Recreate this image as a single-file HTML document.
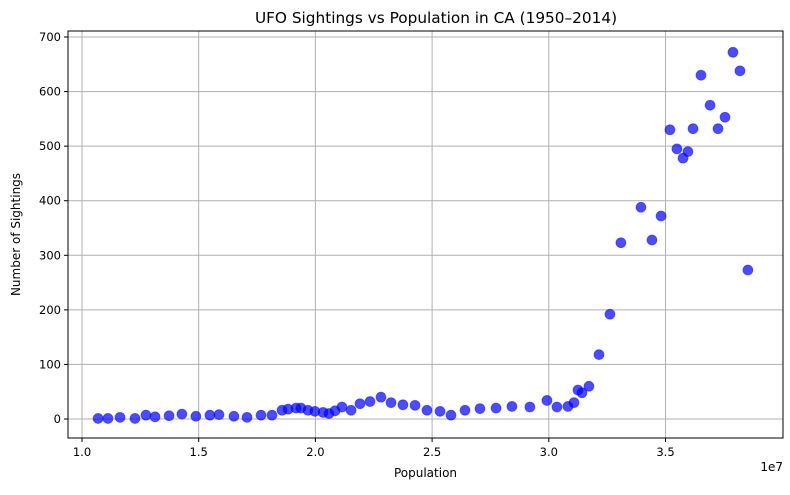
<!DOCTYPE html>
<html><head><meta charset="utf-8"><style>
body{margin:0;background:#fff;font-family:"Liberation Sans","DejaVu Sans",sans-serif}
</style></head><body>
<svg id="chart" width="790" height="490" xmlns="http://www.w3.org/2000/svg" font-family="DejaVu Sans, Liberation Sans, sans-serif">
<text x="436" y="23" text-anchor="middle" font-size="15.3">UFO Sightings vs Population in CA (1950–2014)</text>
<g id="grid"></g>
<g id="ticks"></g>
<g id="points"></g>
<rect x="68" y="31" width="715" height="407" fill="none" stroke="#000" stroke-width="1"/>
<text x="425.5" y="477" text-anchor="middle" font-size="12">Population</text>
<text transform="translate(20,234.5) rotate(-90)" text-anchor="middle" font-size="12">Number of Sightings</text>
<text x="783" y="471" text-anchor="end" font-size="12">1e7</text>
</svg>
<script>
const population=[10.69,11.11,11.63,12.27,12.74,13.13,13.73,14.28,14.88,15.48,15.87,16.51,17.07,17.67,18.14,18.57,18.83,19.17,19.38,19.68,19.98,20.33,20.58,20.84,21.14,21.53,21.91,22.34,22.81,23.24,23.75,24.27,24.78,25.34,25.81,26.41,27.05,27.74,28.42,29.19,29.92,30.35,30.82,31.08,31.25,31.42,31.72,32.15,32.62,33.09,33.95,34.42,34.81,35.19,35.49,35.75,35.96,36.18,36.52,36.91,37.25,37.55,37.89,38.19,38.53];
const sightings=[1,1,3,1,7,4,6,9,5,7,8,5,3,7,7,16,18,20,20,16,14,12,10,15,22,16,28,32,40,30,26,25,16,14,7,16,19,20,23,22,34,22,23,30,53,48,60,118,192,323,388,328,372,530,495,478,490,532,630,575,532,553,672,638,273];
const xTicks=[10,15,20,25,30,35];
const xTickLabels=["1.0","1.5","2.0","2.5","3.0","3.5"];
const yTicks=[0,100,200,300,400,500,600,700];
const NS="http://www.w3.org/2000/svg";
const X=v=>82+(v-10)*23.34;
const Y=v=>419-v*0.5457;
const grid=document.getElementById('grid'),ticks=document.getElementById('ticks'),pts=document.getElementById('points');
function mk(tag,attrs,parent){const e=document.createElementNS(NS,tag);for(const k in attrs)e.setAttribute(k,attrs[k]);parent.appendChild(e);return e;}
xTicks.forEach((t,i)=>{const x=X(t);
 const g=mk('line',{x1:x,x2:x,y1:31,y2:438,stroke:'#b0b0b0','stroke-width':1},grid);
 
 const tk=mk('line',{x1:x,x2:x,y1:438,y2:442,stroke:'#000'},ticks);
 
 const tx=mk('text',{x:x,y:456,'text-anchor':'middle','font-size':11.5},ticks);tx.textContent=xTickLabels[i];
 });
yTicks.forEach(t=>{const y=Y(t);
 const g=mk('line',{x1:68,x2:783,y1:y,y2:y,stroke:'#b0b0b0','stroke-width':1},grid);
 
 const tk=mk('line',{x1:64,x2:68,y1:y,y2:y,stroke:'#000'},ticks);
 
 const tx=mk('text',{x:61,y:y+4,'text-anchor':'end','font-size':11.5},ticks);tx.textContent=String(t);
 });
population.forEach((p,i)=>{const c=mk('circle',{cx:X(p),cy:Y(sightings[i]),r:5,fill:'rgba(0,0,255,0.7)',stroke:'rgba(0,0,255,0.5)','stroke-width':0.8},pts);
 });
</script>
</body></html>
